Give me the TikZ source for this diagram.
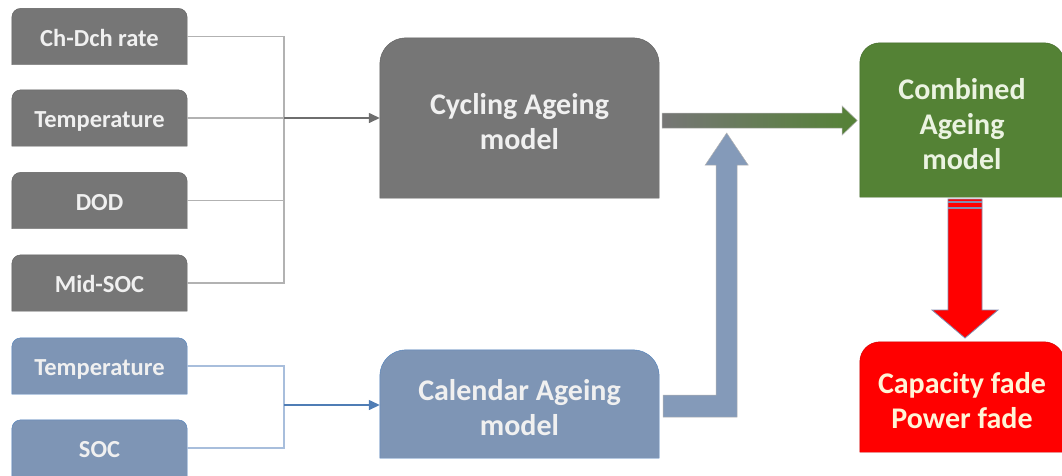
\documentclass[tikz,border=0pt]{standalone}
\usepackage{fontspec}
\setmainfont{Carlito}
\usetikzlibrary{backgrounds,arrows.meta}
\definecolor{boxgray}{RGB}{118,118,118}
\definecolor{edgegray}{RGB}{96,96,96}
\definecolor{boxblue}{RGB}{126,149,181}
\definecolor{edgeblue}{RGB}{79,129,189}
\definecolor{wiregray}{RGB}{178,178,178}
\definecolor{wireblue}{RGB}{168,190,220}
\definecolor{arrowgray}{RGB}{110,110,110}
\definecolor{arrowblue}{RGB}{79,125,181}
\definecolor{boxgreen}{RGB}{84,130,53}
\definecolor{boxred}{RGB}{255,0,0}
\definecolor{edgered}{RGB}{130,140,175}
\definecolor{greentext}{RGB}{235,243,225}
\definecolor{redtext}{RGB}{255,244,214}
\tikzset{
  inbox/.style={minimum width=175pt, minimum height=56pt, inner sep=0pt,
    text height=19pt, text depth=0pt,
    text=white!94!black, font=\bfseries\fontsize{24.5}{28}\selectfont},
  bigbox/.style={minimum width=279pt, inner sep=0pt, align=center, yshift=-4pt,
    text=white!94!black, font=\bfseries\fontsize{30}{35}\selectfont},
  wire/.style={line width=1.4pt},
  tip/.style={-{Triangle[length=11pt,width=10pt]}}
}
\newcommand{\tabfill}[4]{%
  \filldraw[#3] ([yshift=#4]#1.south west) -- ([yshift=#4-#2]#1.north west)
    arc[start angle=180,end angle=90,radius=#2] -- ([shift={(-#2,#4)}]#1.north east)
    arc[start angle=90,end angle=0,radius=#2] -- ([yshift=#4]#1.south east) -- cycle;}
\begin{document}
\begin{tikzpicture}[x=1pt,y=-1pt]
  \useasboundingbox (0,0) rectangle (1062,475);
  \node[inbox] (rate) at (99.5,36.5) {Ch-Dch rate};
  \node[inbox] (tempc) at (99.5,118) {Temperature};
  \node[inbox] (dod) at (99.5,200.5) {DOD};
  \node[inbox] (midsoc) at (99.5,283) {Mid-SOC};
  \node[inbox] (tempk) at (99.5,366) {Temperature};
  \node[inbox] (soc) at (99.5,448) {SOC};
  \node[bigbox, minimum height=160pt] (cycling) at (519.5,118) {Cycling Ageing\\model};
  \node[bigbox, minimum height=108pt] (calendar) at (519.5,404) {Calendar Ageing\\model};
  \node[bigbox, minimum width=204pt, minimum height=154pt, text=greentext] (combined)
    at (962,120) {Combined\\Ageing\\model};
  \node[bigbox, minimum width=204pt, minimum height=110pt, text=redtext] (fade)
    at (962,397) {Capacity fade\\Power fade};
  \begin{scope}[on background layer]
    \foreach \n in {rate,tempc,dod,midsoc} {\tabfill{\n}{9pt}{fill=boxgray,draw=edgegray}{0pt}}
    \foreach \n in {tempk,soc} {\tabfill{\n}{9pt}{fill=boxblue,draw=edgeblue}{0pt}}
    \tabfill{cycling}{26pt}{fill=boxgray,draw=edgegray}{4pt}
    \tabfill{calendar}{26pt}{fill=boxblue,draw=edgeblue}{4pt}
    \tabfill{combined}{20pt}{fill=boxgreen,draw=boxgreen!80!black}{4pt}
    \tabfill{fade}{20pt}{fill=boxred,draw=boxred!80!black}{4pt}
  \end{scope}
  \coordinate (cbus) at (284,118);
  \coordinate (kbus) at (284,405);
  \draw[wire, wiregray] (rate.east) -| (cbus) |- (midsoc.east);
  \draw[wire, wiregray] (tempc.east) -- (cbus);
  \draw[wire, wiregray] (dod.east) -- (dod.east -| cbus);
  \draw[wire, arrowgray, tip] (cbus) -- (cbus -| cycling.west);
  \draw[wire, wireblue] (tempk.east) -| (kbus) |- (soc.east);
  \draw[wire, arrowblue, tip] (kbus) -- (kbus -| calendar.west);
  \coordinate (gstart) at ([xshift=3pt]cycling.east |- 0,120.5);
  \shadedraw[left color=boxgray, middle color=boxgray!60!boxgreen, right color=boxgreen,
    draw=black!30, line width=0.5pt]
    (gstart) ++(0,-7.5) -- ++(180,0) -- ++(0,-7) -- ++(15,14.5) -- ++(-15,14.5)
    -- ++(0,-7) -- ++(-180,0) -- cycle;
  \coordinate (lstart) at ([xshift=4pt]calendar.east |- 0,406);
  \filldraw[fill=boxblue!95!white, draw=black!30, line width=0.5pt]
    (lstart) ++(0,-11) -- ++(53,0) -- ++(0,-230) -- ++(-11,0) -- ++(21.5,-32)
    -- ++(21.5,32) -- ++(-11,0) -- ++(0,252) -- ++(-74,0) -- cycle;
  \coordinate (rstart) at ([xshift=3pt]combined.south |- 0,199);
  \filldraw[fill=boxred, draw=edgered, line width=0.8pt]
    (rstart) ++(-17,0) -- ++(34,0) -- ++(0,111) -- ++(16,0) -- ++(-33,28)
    -- ++(-33,-28) -- ++(16,0) -- cycle;
  \draw[edgered, line width=2.5pt] (rstart) ++(-17,3) -- ++(34,0);
  \draw[edgered, line width=2pt] (rstart) ++(-17,9) -- ++(34,0);
\end{tikzpicture}
\end{document}
